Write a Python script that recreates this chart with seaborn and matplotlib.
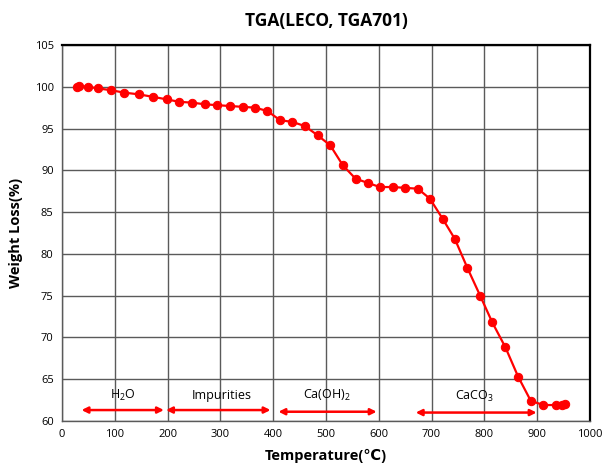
import matplotlib
matplotlib.use("Agg")
import matplotlib.pyplot as plt
import seaborn as sns
import pandas as pd

temperature = [28, 33, 49, 69, 92, 118, 145, 172, 198, 222, 247, 271, 294, 318, 342, 366, 389,
               413, 436, 460, 484, 508, 532, 556, 579, 602, 627, 650, 674, 697, 721, 744, 768,
               792, 815, 840, 864, 888, 912, 935, 948, 953]
weight = [100.0, 100.1, 100.0, 99.8, 99.6, 99.3, 99.1, 98.8, 98.5, 98.2, 98.1, 97.9, 97.8, 97.7,
          97.6, 97.5, 97.1, 96.0, 95.8, 95.3, 94.2, 93.0, 90.6, 89.0, 88.5, 88.0, 88.0, 87.9,
          87.8, 86.6, 84.2, 81.8, 78.3, 75.0, 71.8, 68.8, 65.3, 62.4, 61.9, 61.9, 61.9, 62.0]

region_labels = ["H$_2$O", "Impurities", "Ca(OH)$_2$", "CaCO$_3$"]
region_start = [37, 197, 410, 670]
region_end = [193, 395, 596, 899]
region_arrow_y = [61.3, 61.3, 61.1, 61.0]
region_label_x = [116, 302, 501, 782]
region_label_y = [63.0, 63.0, 63.0, 62.9]

x_ticks = list(range(0, 1001, 100))
y_ticks = list(range(60, 106, 5))

sns.set_style("white")
plt.rcParams['font.family'] = ['Open Sans', 'DejaVu Sans']
plt.rcParams['mathtext.fontset'] = 'custom'
plt.rcParams['mathtext.rm'] = 'Open Sans'

df = pd.DataFrame({"Temperature": temperature, "Weight": weight})

fig = plt.figure(figsize=(6.11, 4.74), dpi=100)
ax = fig.add_axes([0.1015, 0.112, 0.864, 0.793])

sns.lineplot(data=df, x="Temperature", y="Weight", ax=ax, color="#ff0000",
             marker="o", markersize=6, markeredgecolor="#ff0000", linewidth=1.6,
             sort=False, zorder=5)

for lab, s, e, ay, lx, ly in zip(region_labels, region_start, region_end, region_arrow_y,
                                 region_label_x, region_label_y):
    ax.annotate("", xy=(e, ay), xytext=(s, ay),
                arrowprops=dict(arrowstyle="<|-|>", color="#ff0000", lw=1.8,
                                mutation_scale=9, shrinkA=0, shrinkB=0), zorder=6)
    ax.text(lx, ly, lab, ha="center", va="center", fontsize=9, color="black")

ax.set_xlim(0, 1000)
ax.set_ylim(60, 105)
ax.set_xticks(x_ticks)
ax.set_yticks(y_ticks)
ax.tick_params(axis="both", labelsize=8, length=0, pad=6, labelcolor="black")
ax.grid(True, color="#5a5a5a", linewidth=1.0)
ax.set_axisbelow(True)

for side in ["top", "right"]:
    ax.spines[side].set_color("black")
    ax.spines[side].set_linewidth(1.6)
for side in ["left", "bottom"]:
    ax.spines[side].set_color("#5a5a5a")
    ax.spines[side].set_linewidth(1.0)

ax.set_xlabel("Temperature(℃)", fontsize=10.5, fontweight="bold", labelpad=6, color="black")
ax.set_ylabel("Weight Loss(%)", fontsize=10.5, fontweight="bold", labelpad=8, color="black")
ax.set_title("TGA(LECO, TGA701)", fontsize=12.5, fontweight="bold", pad=14, color="black")

fig.savefig("out.png", dpi=100)
